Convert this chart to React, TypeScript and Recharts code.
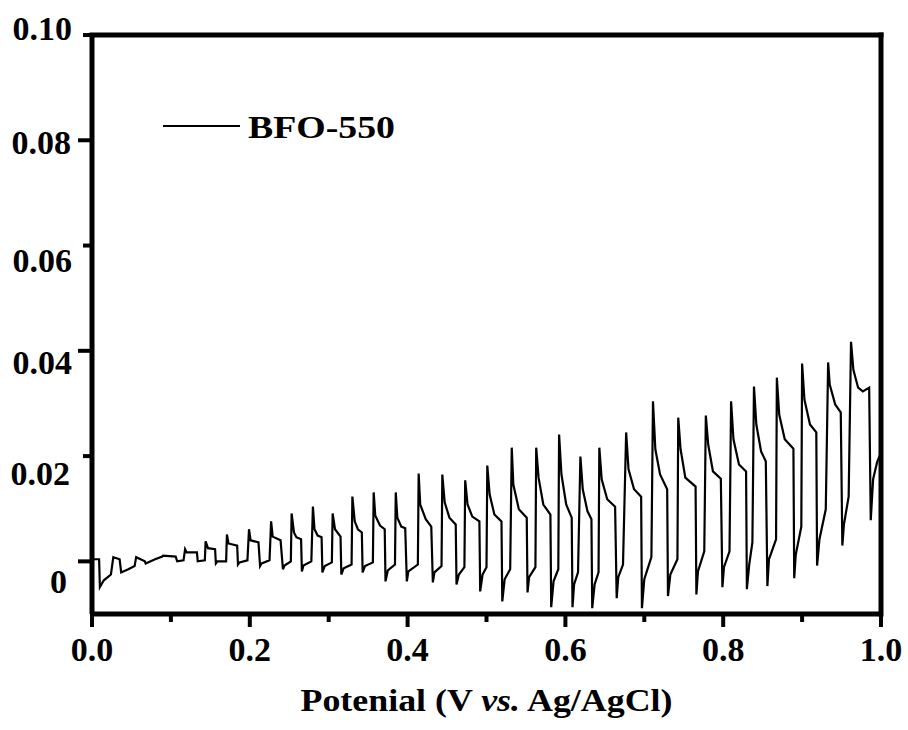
import React from 'react';
import { LineChart, Line, XAxis, YAxis, ReferenceLine, Legend } from 'recharts';

const potential = [
  0.000, 0.009, 0.010, 0.015, 0.024, 0.027, 0.035, 0.037, 0.046, 0.054,
  0.056, 0.067, 0.068, 0.080, 0.089, 0.090, 0.106, 0.108, 0.116, 0.118,
  0.120, 0.133, 0.134, 0.143, 0.144, 0.147, 0.156, 0.157, 0.159, 0.170,
  0.171, 0.173, 0.184, 0.185, 0.187, 0.197, 0.199, 0.201, 0.211, 0.213,
  0.215, 0.225, 0.227, 0.229, 0.239, 0.242, 0.244, 0.252, 0.253, 0.256,
  0.259, 0.265, 0.266, 0.268, 0.278, 0.280, 0.282, 0.286, 0.291, 0.292,
  0.295, 0.304, 0.305, 0.308, 0.315, 0.316, 0.319, 0.329, 0.330, 0.333,
  0.337, 0.342, 0.343, 0.346, 0.356, 0.357, 0.359, 0.365, 0.371, 0.372,
  0.375, 0.384, 0.385, 0.387, 0.392, 0.397, 0.399, 0.401, 0.413, 0.414,
  0.416, 0.423, 0.430, 0.432, 0.434, 0.443, 0.444, 0.447, 0.453, 0.461,
  0.462, 0.465, 0.472, 0.473, 0.476, 0.482, 0.491, 0.492, 0.495, 0.500,
  0.501, 0.504, 0.510, 0.519, 0.520, 0.523, 0.530, 0.532, 0.534, 0.541,
  0.551, 0.552, 0.554, 0.562, 0.563, 0.566, 0.572, 0.581, 0.582, 0.585,
  0.591, 0.592, 0.595, 0.601, 0.608, 0.609, 0.611, 0.616, 0.619, 0.622,
  0.628, 0.633, 0.634, 0.637, 0.642, 0.643, 0.646, 0.653, 0.663, 0.665,
  0.667, 0.673, 0.677, 0.680, 0.687, 0.696, 0.697, 0.700, 0.709, 0.711,
  0.714, 0.720, 0.729, 0.730, 0.733, 0.742, 0.743, 0.746, 0.752, 0.765,
  0.766, 0.768, 0.776, 0.778, 0.781, 0.787, 0.797, 0.799, 0.801, 0.808,
  0.810, 0.813, 0.820, 0.829, 0.830, 0.833, 0.837, 0.839, 0.842, 0.848,
  0.854, 0.856, 0.858, 0.867, 0.868, 0.871, 0.878, 0.889, 0.890, 0.892,
  0.899, 0.900, 0.903, 0.910, 0.918, 0.919, 0.922, 0.930, 0.933, 0.935,
  0.942, 0.949, 0.951, 0.953, 0.959, 0.962, 0.965, 0.971, 0.977, 0.985,
  0.987, 0.990, 0.995, 0.999,
];

const current = [
  0.0004, 0.0004, -0.0049, -0.0036, -0.0025, 0.0008, 0.0004, -0.0021, -0.0015, -0.0009,
  0.0008, 0.0000, -0.0004, 0.0004, 0.0009, 0.0011, 0.0009, 0.0000, 0.0002, 0.0023,
  0.0017, 0.0017, 0.0000, 0.0002, 0.0038, 0.0025, 0.0023, -0.0004, 0.0000, 0.0000,
  0.0051, 0.0034, 0.0030, -0.0006, -0.0002, 0.0002, 0.0061, 0.0040, 0.0036, -0.0009,
  -0.0004, 0.0002, 0.0076, 0.0047, 0.0040, -0.0015, -0.0008, 0.0000, 0.0091, 0.0055,
  0.0046, 0.0042, -0.0019, -0.0008, 0.0000, 0.0104, 0.0061, 0.0049, 0.0046, -0.0021,
  -0.0009, -0.0002, 0.0091, 0.0061, 0.0047, -0.0025, -0.0013, -0.0006, 0.0123, 0.0076,
  0.0061, 0.0055, -0.0021, -0.0009, -0.0002, 0.0131, 0.0087, 0.0068, 0.0061, -0.0038,
  -0.0017, -0.0006, 0.0131, 0.0083, 0.0066, 0.0063, -0.0038, -0.0019, -0.0006, 0.0167,
  0.0108, 0.0080, 0.0066, -0.0040, -0.0021, -0.0009, 0.0165, 0.0112, 0.0083, 0.0070,
  -0.0044, -0.0025, -0.0011, 0.0154, 0.0108, 0.0085, 0.0076, -0.0057, -0.0025, -0.0011,
  0.0182, 0.0127, 0.0089, 0.0076, -0.0076, -0.0034, -0.0015, 0.0216, 0.0146, 0.0099,
  0.0083, -0.0059, -0.0030, -0.0011, 0.0216, 0.0159, 0.0108, 0.0089, -0.0087, -0.0038,
  -0.0015, 0.0241, 0.0165, 0.0108, 0.0083, -0.0087, -0.0044, -0.0021, 0.0199, 0.0137,
  0.0095, 0.0080, -0.0089, -0.0044, -0.0021, 0.0216, 0.0156, 0.0118, 0.0104, -0.0070,
  -0.0030, -0.0006, 0.0245, 0.0175, 0.0137, 0.0123, -0.0089, -0.0034, 0.0008, 0.0304,
  0.0213, 0.0165, 0.0137, -0.0066, -0.0025, 0.0004, 0.0273, 0.0213, 0.0159, 0.0142,
  -0.0063, -0.0019, 0.0019, 0.0277, 0.0222, 0.0171, 0.0157, -0.0049, -0.0011, 0.0019,
  0.0304, 0.0232, 0.0184, 0.0171, -0.0053, -0.0006, 0.0036, 0.0332, 0.0260, 0.0209,
  0.0190, -0.0047, 0.0004, 0.0042, 0.0349, 0.0279, 0.0232, 0.0214, -0.0032, 0.0013,
  0.0066, 0.0376, 0.0307, 0.0260, 0.0245, -0.0008, 0.0042, 0.0099, 0.0378, 0.0336,
  0.0298, 0.0283, 0.0030, 0.0070, 0.0123, 0.0417, 0.0364, 0.0330, 0.0323, 0.0330,
  0.0078, 0.0156, 0.0188, 0.0203,
];

const xTicks = [0, 0.1, 0.2, 0.3, 0.4, 0.5, 0.6, 0.7, 0.8, 0.9, 1.0];
const xTickLabels = ['0.0', '', '0.2', '', '0.4', '', '0.6', '', '0.8', '', '1.0'];
const yTicks = [0, 0.02, 0.04, 0.06, 0.08, 0.1];
const yTickLabels = ['0', '0.02', '0.04', '0.06', '0.08', '0.10'];
const seriesName = 'BFO-550';
const xTitleParts = ['Potenial (V ', 'vs.', ' Ag/AgCl)'];

const data = potential.map((v, k) => ({ v, i: current[k] }));

const FONT = '"Liberation Serif", "Times New Roman", serif';
const yLabelDy = [32, 29, 23, 26, 14, 5];
const yLabelDx = [-5, -2, 0, 0, -1, 0];

const XTick = (props: any) => {
  const { x, y, index } = props;
  const label = xTickLabels[index];
  const major = label !== '';
  return (
    <g>
      <line x1={x} x2={x} y1={y} y2={y + (major ? 13 : 8)} stroke="#000" strokeWidth={4} />
      {major && (
        <text x={x} y={y + 47} textAnchor="middle" fontFamily={FONT} fontWeight="bold" fontSize={34} fill="#000">
          {label}
        </text>
      )}
    </g>
  );
};

const YTick = (props: any) => {
  const { x, y, index } = props;
  const label = yTickLabels[index];
  const long = index % 2 === 0;
  return (
    <g>
      <line x1={x} x2={x - (long ? 14 : 9)} y1={y} y2={y} stroke="#000" strokeWidth={4} />
      <text
        x={x - 20 + yLabelDx[index]}
        y={y + yLabelDy[index]}
        textAnchor="end"
        fontFamily={FONT}
        fontWeight="bold"
        fontSize={34}
        fill="#000"
      >
        {label}
      </text>
    </g>
  );
};

const Title = (props: any) => {
  const vb = props.viewBox || { x: 92, y: 614, width: 789, height: 60 };
  const cx = vb.x + vb.width / 2;
  return (
    <text
      x={cx}
      y={vb.y + 97}
      textAnchor="middle"
      fontFamily={FONT}
      fontWeight="bold"
      fontSize={32}
      fill="#000"
      textLength={372}
      lengthAdjust="spacingAndGlyphs"
      style={{ whiteSpace: 'pre' }}
    >
      <tspan>{xTitleParts[0]}</tspan>
      <tspan fontStyle="italic">{xTitleParts[1]}</tspan>
      <tspan>{xTitleParts[2]}</tspan>
    </text>
  );
};

const LegendContent = () => (
  <svg width={250} height={40} style={{ display: 'block', overflow: 'visible' }}>
    <line x1={0} x2={77} y1={16} y2={16} stroke="#000" strokeWidth={2} />
    <text x={85} y={28} fontFamily={FONT} fontWeight="bold" fontSize={32} fill="#000" textLength={147} lengthAdjust="spacingAndGlyphs">
      {seriesName}
    </text>
  </svg>
);

export default function App() {
  return (
    <div style={{ position: 'absolute', left: 0, top: 0, width: 908, height: 730, background: '#fff' }}>
      <LineChart width={908} height={730} data={data} margin={{ top: 35, right: 27, left: 12, bottom: 56 }}>
        <XAxis
          dataKey="v"
          type="number"
          domain={[0, 1]}
          ticks={xTicks}
          interval={0}
          tickSize={0}
          tickMargin={0}
          tickLine={false}
          tick={<XTick />}
          height={60}
          axisLine={{ stroke: '#000', strokeWidth: 5 }}
          allowDataOverflow
          label={{ content: <Title /> }}
        />
        <YAxis
          type="number"
          domain={[-0.01, 0.1]}
          ticks={yTicks}
          interval={0}
          tickSize={0}
          tickMargin={0}
          tickLine={false}
          tick={<YTick />}
          width={80}
          axisLine={{ stroke: '#000', strokeWidth: 5 }}
          allowDataOverflow
        />
        <ReferenceLine y={0.1} stroke="#000" strokeWidth={5} strokeLinecap="square" />
        <ReferenceLine x={1} stroke="#000" strokeWidth={5} strokeLinecap="square" />
        <Legend
          content={<LegendContent />}
          layout="horizontal"
          verticalAlign="middle"
          align="center"
          wrapperStyle={{ left: 163, top: 110, width: 250, height: 40 }}
        />
        <Line
          type="linear"
          dataKey="i"
          name={seriesName}
          stroke="#000"
          strokeWidth={2.2}
          dot={false}
          isAnimationActive={false}
        />
      </LineChart>
    </div>
  );
}
